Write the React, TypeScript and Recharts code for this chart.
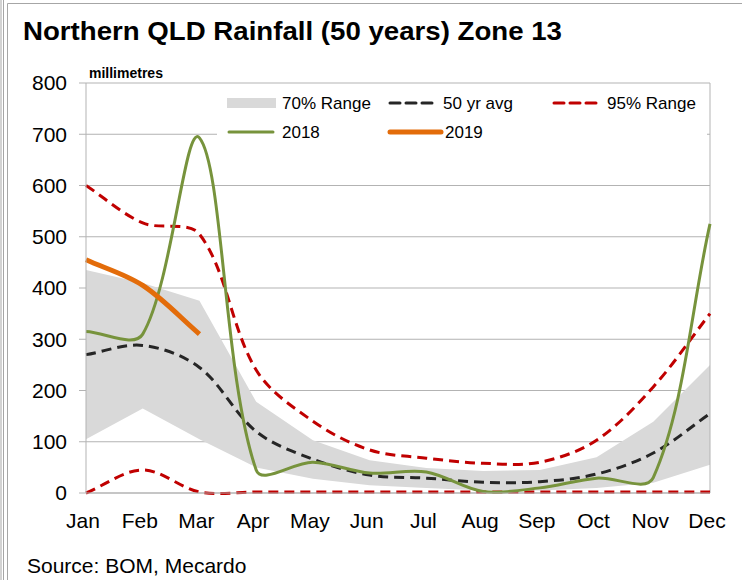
import {
  Area,
  CartesianGrid,
  ComposedChart,
  Line,
  ReferenceLine,
  XAxis,
  YAxis,
} from "recharts";

const months = ["Jan", "Feb", "Mar", "Apr", "May", "Jun", "Jul", "Aug", "Sep", "Oct", "Nov", "Dec"];
const range70Low = [105, 165, 105, 50, 28, 15, 10, 5, 5, 10, 20, 55];
const range70High = [435, 410, 375, 178, 103, 64, 49, 43, 45, 70, 139, 250];
const avg50 = [270, 288, 245, 120, 66, 35, 29, 21, 22, 37, 78, 155];
const range95High = [600, 527, 505, 240, 140, 84, 68, 58, 60, 103, 207, 350];
const range95Low = [0, 45, 2, 2, 2, 2, 2, 2, 2, 2, 2, 2];
const rain2018 = [315, 310, 693, 45, 60, 39, 41, 3, 10, 29, 30, 525];
const rain2019: (number | null)[] = [455, 405, 310, null, null, null, null, null, null, null, null, null];
const yTicks = [0, 100, 200, 300, 400, 500, 600, 700, 800];

const rows = months.map((m, i) => ({
  m,
  band: [range70Low[i], range70High[i]],
  avg: avg50[i],
  hi95: range95High[i],
  lo95: range95Low[i],
  y2018: rain2018[i],
  y2019: rain2019[i],
}));

const FONT = "'Liberation Sans', Arial, sans-serif";
const GRID = "#B3B3B3";
const GREEN = "#77933C";
const ORANGE = "#E36C0A";
const RED = "#C00000";
const DARK = "#262626";
const BAND = "#D9D9D9";

// excel-ish smoothing: bezier with tangents scaled by neighbouring chord lengths
function excelSmooth(ctx: any) {
  let pts: [number, number][] = [];
  return {
    areaStart() {},
    areaEnd() {},
    lineStart() {
      pts = [];
    },
    point(x: number, y: number) {
      pts.push([+x, +y]);
    },
    lineEnd() {
      const n = pts.length;
      if (!n) return;
      ctx.moveTo(pts[0][0], pts[0][1]);
      if (n === 1) return;
      const dist = (a: [number, number], b: [number, number]) => Math.hypot(b[0] - a[0], b[1] - a[1]);
      for (let i = 0; i < n - 1; i++) {
        const p0 = pts[i - 1] || pts[i];
        const p1 = pts[i];
        const p2 = pts[i + 1];
        const p3 = pts[i + 2] || pts[i + 1];
        const d01 = dist(p0, p1);
        const d12 = dist(p1, p2);
        const d23 = dist(p2, p3);
        const f1 = d01 + d12 > 0 ? d12 / (d01 + d12) / 1.5 : 0;
        const f2 = d12 + d23 > 0 ? d12 / (d12 + d23) / 1.5 : 0;
        const c1x = p1[0] + (p2[0] - p0[0]) * f1 / 2;
        const c1y = p1[1] + (p2[1] - p0[1]) * f1 / 2;
        const c2x = p2[0] - (p3[0] - p1[0]) * f2 / 2;
        const c2y = p2[1] - (p3[1] - p1[1]) * f2 / 2;
        ctx.bezierCurveTo(c1x, c1y, c2x, c2y, p2[0], p2[1]);
      }
    },
  };
}

function LegendSwatch({ kind }: { kind: string }) {
  if (kind === "band") return <rect x={0} y={-5} width={49} height={10} fill={BAND} />;
  const style: Record<string, { c: string; w: number; dash?: string }> = {
    avg: { c: DARK, w: 3, dash: "10 6" },
    p95: { c: RED, w: 3, dash: "10 6" },
    y18: { c: GREEN, w: 3 },
    y19: { c: ORANGE, w: 5 },
  };
  const s = style[kind];
  const len = kind === "y19" ? 55 : 48;
  return (
    <line x1={2} x2={len - 2} y1={0} y2={0} stroke={s.c} strokeWidth={s.w} strokeDasharray={s.dash} strokeLinecap="round" />
  );
}

const legendItems = [
  { kind: "band", label: "70% Range", x: 227, y: 103 },
  { kind: "avg", label: "50 yr avg", x: 388, y: 103 },
  { kind: "p95", label: "95% Range", x: 552, y: 103 },
  { kind: "y18", label: "2018", x: 227, y: 132 },
  { kind: "y19", label: "2019", x: 388, y: 132 },
];

export default function App() {
  return (
    <div style={{ position: "absolute", left: 0, top: 0, width: 742, height: 580, background: "#fff", fontFamily: FONT }}>
      <ComposedChart
        width={742}
        height={580}
        data={rows}
        margin={{ top: 83, right: 32, bottom: 47, left: 0 }}
      >
        <CartesianGrid vertical={false} stroke={GRID} strokeWidth={1} />
        <XAxis
          dataKey="m"
          scale="point"
          padding={{ left: 0, right: 0 }}
          height={40}
          axisLine={{ stroke: GRID }}
          tickLine={false}
          tickSize={8}
          tickMargin={12}
          interval={0}
          tick={{ fontSize: 21, fill: "#000", fontFamily: FONT, dx: -3 }}
        />
        <YAxis
          domain={[0, 800]}
          ticks={yTicks}
          width={86}
          axisLine={{ stroke: GRID }}
          tickLine={{ stroke: GRID }}
          tickSize={7}
          tickMargin={12}
          interval={0}
          tick={{ fontSize: 21, fill: "#000", fontFamily: FONT }}
        />
        <ReferenceLine x="Dec" stroke={GRID} />
        <Area
          dataKey="band"
          type="linear"
          fill={BAND}
          fillOpacity={1}
          stroke="none"
          isAnimationActive={false}
          dot={false}
          activeDot={false}
        />
        <Line dataKey="hi95" type={excelSmooth as any} stroke={RED} strokeWidth={3} strokeDasharray="10 6" dot={false} isAnimationActive={false} />
        <Line dataKey="lo95" type={excelSmooth as any} stroke={RED} strokeWidth={3} strokeDasharray="10 6" dot={false} isAnimationActive={false} />
        <Line dataKey="avg" type={excelSmooth as any} stroke={DARK} strokeWidth={3} strokeDasharray="10 6" dot={false} isAnimationActive={false} />
        <Line dataKey="y2018" type={excelSmooth as any} stroke={GREEN} strokeWidth={3} dot={false} isAnimationActive={false} />
        <Line dataKey="y2019" type={excelSmooth as any} stroke={ORANGE} strokeWidth={5} dot={false} isAnimationActive={false} />
      </ComposedChart>
      <svg width={742} height={580} style={{ position: "absolute", left: 0, top: 0, pointerEvents: "none" }}>
        <line x1={1} x2={1} y1={0} y2={580} stroke="#A6A6A6" />
        <line x1={3.5} x2={3.5} y1={0} y2={580} stroke="#A6A6A6" />
        <polyline points="7.5,580 7.5,3.5 742,3.5" fill="none" stroke="#A6A6A6" />
        <text
          x={23}
          y={40}
          fontSize={26}
          fontWeight="bold"
          fill="#000"
          fontFamily={FONT}
          textLength={539}
          lengthAdjust="spacingAndGlyphs"
        >
          Northern QLD Rainfall (50 years) Zone 13
        </text>
        <text x={89} y={78} fontSize={14} fontWeight="bold" fill="#000" fontFamily={FONT}>
          millimetres
        </text>
        <rect x={217} y={86} width={490} height={54} fill="#fff" />
        {legendItems.map((it) => (
          <g key={it.label} transform={`translate(${it.x},${it.y})`}>
            <LegendSwatch kind={it.kind} />
            <text x={it.kind === "y19" ? 57 : 55} y={6} fontSize={17} fill="#000" fontFamily={FONT}>
              {it.label}
            </text>
          </g>
        ))}
        <text x={27} y={573} fontSize={21} fill="#000" fontFamily={FONT}>
          Source: BOM, Mecardo
        </text>
      </svg>
    </div>
  );
}
